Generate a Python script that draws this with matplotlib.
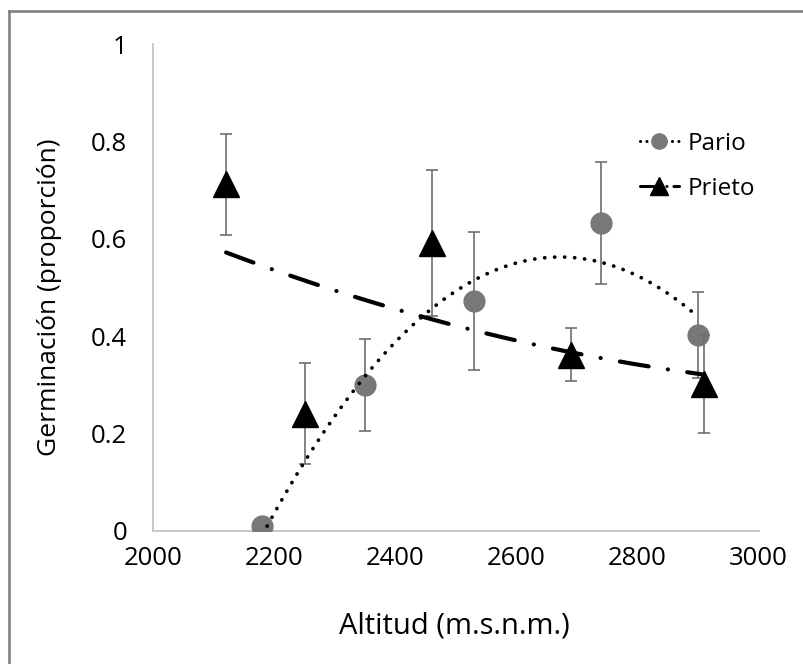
import numpy as np
import matplotlib
matplotlib.use("Agg")
import matplotlib.pyplot as plt
from matplotlib.lines import Line2D

plt.rcParams['font.family'] = ['Open Sans', 'DejaVu Sans']
plt.rcParams['lines.scale_dashes'] = False

# data
pario_x = [2180, 2350, 2530, 2740, 2900]
pario_y = [0.01, 0.30, 0.472, 0.633, 0.402]
pario_err = [0.0, 0.095, 0.142, 0.125, 0.088]

prieto_x = [2120, 2250, 2460, 2690, 2910]
prieto_y = [0.712, 0.241, 0.592, 0.362, 0.302]
prieto_err = [0.104, 0.103, 0.150, 0.054, 0.100]

x_ticks = [2000, 2200, 2400, 2600, 2800, 3000]
y_ticks = [0, 0.2, 0.4, 0.6, 0.8, 1]
y_ticklabels = ['0', '0.2', '0.4', '0.6', '0.8', '1']

grey_pt = '#787878'
err_col = '#6e6e6e'
axis_col = '#bfbfbf'

W, H = 804, 664
fig = plt.figure(figsize=(W / 100, H / 100), dpi=100)
ax = fig.add_axes([153.5 / W, 1 - 531 / H, 605 / W, 487 / H])

# error bars + markers
ax.errorbar(pario_x, pario_y, yerr=pario_err, fmt='o', color=grey_pt, ms=15,
            ecolor=err_col, elinewidth=1.2, capsize=4.5, capthick=1.2, zorder=3)
ax.errorbar(prieto_x, prieto_y, yerr=prieto_err, fmt='^', color='black', ms=19,
            ecolor=err_col, elinewidth=1.2, capsize=4.5, capthick=1.2, zorder=4)

# polynomial (order 2) trendlines, like excel does
pario_dash = (0, (0.1, 7.1))
prieto_dash = (0, (21, 14, 0.1, 14))

c1 = np.polyfit(pario_x, pario_y, 2)
xx1 = np.linspace(min(pario_x), max(pario_x), 200)
ax.plot(xx1, np.polyval(c1, xx1), color='black', lw=2.7, linestyle=pario_dash,
        dash_capstyle='round', zorder=5)

c2 = np.polyfit(prieto_x, prieto_y, 2)
xx2 = np.linspace(min(prieto_x), max(prieto_x), 200)
ax.plot(xx2, np.polyval(c2, xx2), color='black', lw=3.0, linestyle=prieto_dash,
        dash_capstyle='round', zorder=5)

ax.set_xlim(2000, 3000)
ax.set_ylim(0, 1)
ax.set_xticks(x_ticks)
ax.set_yticks(y_ticks)
ax.set_yticklabels(y_ticklabels)
ax.tick_params(axis='both', length=0, labelsize=18.5)
ax.tick_params(axis='y', pad=19)
ax.tick_params(axis='x', pad=11)

for s in ['top', 'right']:
    ax.spines[s].set_visible(False)
for s in ['left', 'bottom']:
    ax.spines[s].set_color(axis_col)
    ax.spines[s].set_linewidth(1.2)

ax.set_xlabel('Altitud (m.s.n.m.)', fontsize=21)
ax.xaxis.set_label_coords(0.498, -0.165)
ax.set_ylabel('Germinación (proporción)', fontsize=19)
ax.yaxis.set_label_coords(-0.152, 0.48)

h1 = Line2D([], [], color='black', lw=2.2, linestyle=(0, (0.1, 4.5)), dash_capstyle='round',
            marker='o', ms=11, markerfacecolor=grey_pt, markeredgecolor=grey_pt)
h2 = Line2D([], [], color='black', lw=2.2, linestyle=(0, (14, 5, 0.1, 5)), dash_capstyle='round',
            marker='^', ms=13, markerfacecolor='black', markeredgecolor='black')
leg = ax.legend([h1, h2], ['Pario', 'Prieto'], loc='upper left',
                bbox_to_anchor=(640 / W, 1 - 132 / H), bbox_transform=fig.transFigure,
                frameon=False, fontsize=17.5, handlelength=1.6, handletextpad=0.35,
                labelspacing=0.85, numpoints=1, borderpad=0, borderaxespad=0)

# chart border (only left and top show in the crop)
fig.add_artist(Line2D([9 / W, 9 / W], [0, 1 - 11 / H], transform=fig.transFigure,
                      color='#808080', lw=1.9))
fig.add_artist(Line2D([9 / W, 1], [1 - 11 / H, 1 - 11 / H], transform=fig.transFigure,
                      color='#808080', lw=1.9))

fig.savefig('out.png', dpi=100)
